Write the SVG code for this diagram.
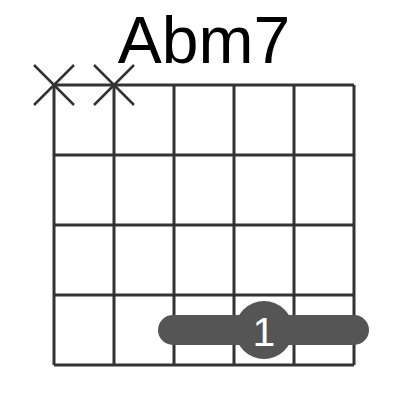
<svg xmlns="http://www.w3.org/2000/svg" width="400" height="400" viewBox="0 0 400 400">
<style>
.g{stroke:#333;stroke-width:3;fill:none}
.x{stroke:#333;stroke-width:2.5}
.t{font-family:"Liberation Sans",Arial,sans-serif}
</style>
<rect width="400" height="400" fill="#fff"/>
<text class="t" x="204" y="63" font-size="66" text-anchor="middle" fill="#000">Abm7</text>
<g id="grid" class="g">
<path d="M54 85V365M114 85V365M174 85V365M234 85V365M294 85V365M354 85V365"/>
<path d="M54 85H354M54 155H354M54 225H354M54 295H354M54 365H354"/>
</g>
<g id="mute1" class="x"><path d="M34 65L74 105M74 65L34 105"/></g>
<g id="mute2" class="x"><path d="M94 65L134 105M134 65L94 105"/></g>
<g id="barre">
<rect x="158" y="315" width="211" height="30" rx="15" fill="#555"/>
<circle cx="264" cy="330" r="29" fill="#555"/>
<text class="t" x="264" y="346" font-size="41" text-anchor="middle" fill="#fff">1</text>
</g>
</svg>
